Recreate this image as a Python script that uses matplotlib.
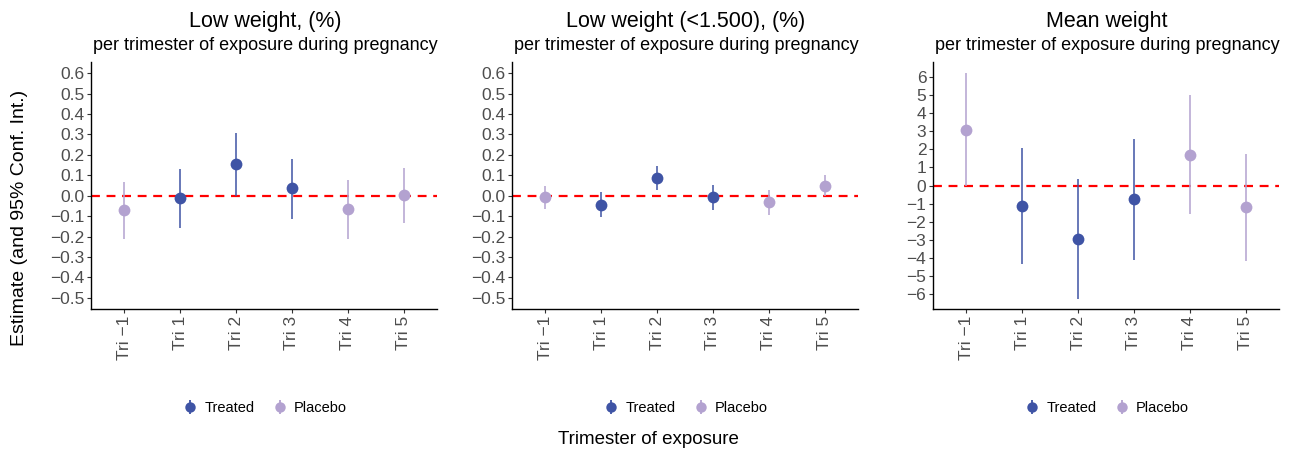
import matplotlib
matplotlib.use("Agg")
import matplotlib.pyplot as plt
import numpy as np

plt.rcParams["font.family"] = ["Liberation Sans", "DejaVu Sans"]

TRIMESTRES = ["Tri \u22121", "Tri 1", "Tri 2", "Tri 3", "Tri 4", "Tri 5"]
# grupo de cada trimestre: True = tratado, False = placebo
TRATADO = [False, True, True, True, False, False]

TITULOS = ["Low weight, (%)", "Low weight (<1.500), (%)", "Mean weight"]
SUBTITULO = "per trimester of exposure during pregnancy"

EST_BAJO = [-0.072, -0.013, 0.153, 0.036, -0.067, 0.002]
INF_BAJO = [-0.21, -0.158, 0.0, -0.115, -0.21, -0.133]
SUP_BAJO = [0.067, 0.133, 0.306, 0.182, 0.078, 0.135]

EST_MUY_BAJO = [-0.008, -0.044, 0.085, -0.008, -0.033, 0.047]
INF_MUY_BAJO = [-0.067, -0.102, 0.026, -0.07, -0.093, -0.003]
SUP_MUY_BAJO = [0.047, 0.016, 0.145, 0.054, 0.029, 0.099]

EST_MEDIA = [3.04, -1.12, -2.95, -0.75, 1.70, -1.19]
INF_MEDIA = [0.0, -4.30, -6.25, -4.08, -1.56, -4.18]
SUP_MEDIA = [6.17, 2.07, 0.38, 2.56, 5.0, 1.74]

COLOR_TRATADO = "#3F54A5"
COLOR_PLACEBO = "#B3A2D0"
GRIS = "#4D4D4D"

W, H = 1298, 455
fig = plt.figure(figsize=(W / 100, H / 100), dpi=100)

paneles = [
    (EST_BAJO, INF_BAJO, SUP_BAJO, np.round(np.arange(-0.5, 0.61, 0.1), 1), (-0.555, 0.655), "{:.1f}"),
    (EST_MUY_BAJO, INF_MUY_BAJO, SUP_MUY_BAJO, np.round(np.arange(-0.5, 0.61, 0.1), 1), (-0.555, 0.655), "{:.1f}"),
    (EST_MEDIA, INF_MEDIA, SUP_MEDIA, np.arange(-6, 7), (-6.8, 6.8), "{:.0f}"),
]
izquierdas = [91, 512, 933]

x = np.arange(len(TRIMESTRES))
tratado = np.array(TRATADO)

for i, (est, inf, sup, yticks, ylim, fmt) in enumerate(paneles):
    left = izquierdas[i]
    ax = fig.add_axes([left / W, 1 - 309 / H, 346 / W, 247 / H])
    est, inf, sup = map(np.asarray, (est, inf, sup))
    ax.axhline(0, color="red", ls=(0, (4, 3)), lw=1.6, zorder=1)
    handles = []
    for mask, color, label in [(tratado, COLOR_TRATADO, "Treated"), (~tratado, COLOR_PLACEBO, "Placebo")]:
        ax.vlines(x[mask], inf[mask], sup[mask], color=color, lw=1.3, alpha=0.85, zorder=2)
        ax.plot(x[mask], est[mask], "o", color=color, ms=8.5, mec="none", zorder=3)
        h = ax.errorbar([np.nan], [np.nan], yerr=[[0.1], [0.1]], fmt="o", color=color,
                        ms=7.5, mec="none", elinewidth=1.3, label=label)
        handles.append(h)
    ax.set_xlim(-0.6, 5.6)
    ax.set_ylim(*ylim)
    ax.set_xticks(x)
    ax.set_xticklabels(TRIMESTRES, rotation=90)
    ax.set_yticks(yticks)
    ax.set_yticklabels([fmt.format(v).replace("-", "\u2212") if v != 0 else fmt.format(0) for v in yticks])
    for s in ["top", "right"]:
        ax.spines[s].set_visible(False)
    for s in ["left", "bottom"]:
        ax.spines[s].set_linewidth(1.0)
    ax.tick_params(axis="both", labelsize=12.5, labelcolor=GRIS, color="#333333", length=2.8, width=0.8, pad=2)
    centro = (left + 174) / W
    fig.text(centro, 1 - 22 / H, TITULOS[i], ha="center", va="center", fontsize=15.5)
    fig.text(centro, 1 - 46 / H, SUBTITULO, ha="center", va="center", fontsize=13)
    fig.legend(handles=handles, loc="center", bbox_to_anchor=(centro, 1 - 408 / H), ncol=2,
               frameon=False, fontsize=10.5, handlelength=1.0, handletextpad=0.5, columnspacing=1.2)

fig.text(20 / W, 1 - 218 / H, "Estimate (and 95% Conf. Int.)", rotation=90, ha="center", va="center", fontsize=14)
fig.text(648 / W, 1 - 440 / H, "Trimester of exposure", ha="center", va="center", fontsize=13.5)

fig.savefig("out.png", dpi=100)
